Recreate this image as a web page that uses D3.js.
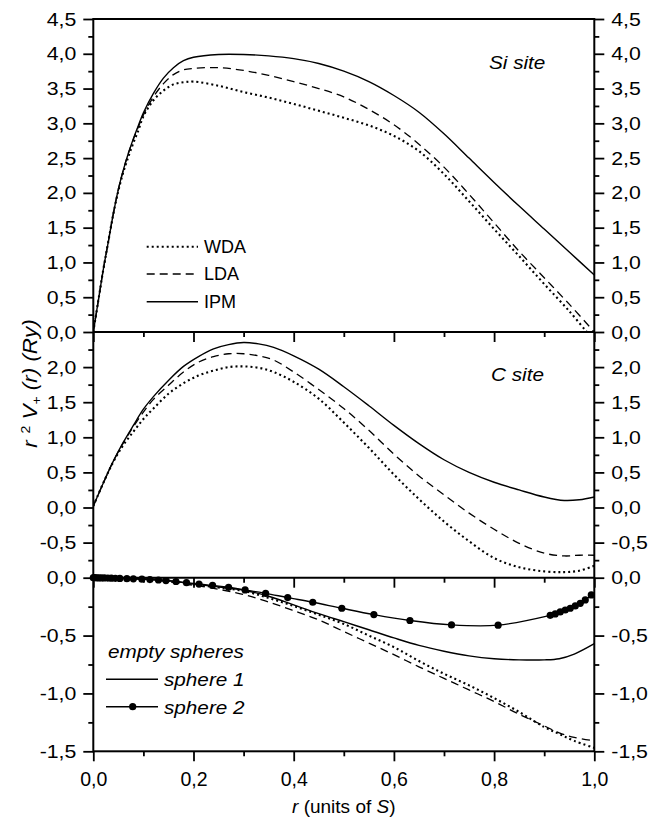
<!DOCTYPE html>
<html>
<head>
<meta charset="utf-8">
<script src="https://cdn.jsdelivr.net/npm/d3@7"></script>
<style>
body { margin: 0; background: #fff; }
svg text { font-family: "Liberation Sans", Arial, Helvetica, sans-serif; fill: #000; }
.wide  { transform-box: fill-box; transform-origin: center;       transform: scaleX(1.12); }
.wideL { transform-box: fill-box; transform-origin: left center;  transform: scaleX(1.12); }
.wideR { transform-box: fill-box; transform-origin: right center; transform: scaleX(1.12); }
</style>
</head>
<body>
<svg id="chart" width="661" height="819"></svg>
<script>
// ---- data ----
// top panel (Si site)
const rTop = [0, 0.01, 0.02, 0.03, 0.04, 0.05, 0.06, 0.07, 0.08, 0.09, 0.10, 0.12, 0.14, 0.16, 0.18, 0.20,
              0.25, 0.30, 0.35, 0.40, 0.45, 0.50, 0.55, 0.60, 0.65, 0.70, 0.75, 0.80, 0.85, 0.90, 0.95, 1.00];
const rTopWda = [0, 0.01, 0.02, 0.03, 0.04, 0.05, 0.06, 0.07, 0.08, 0.09, 0.10, 0.12, 0.14, 0.16, 0.18, 0.20,
              0.25, 0.30, 0.35, 0.40, 0.45, 0.50, 0.55, 0.60, 0.65, 0.70, 0.75, 0.80, 0.85, 0.90, 0.95, 0.985];
const ipmTop = [0, 0.45, 0.9, 1.3, 1.7, 2.05, 2.33, 2.57, 2.78, 2.97, 3.15, 3.43, 3.65, 3.8, 3.9, 3.95,
                3.99, 3.99, 3.97, 3.93, 3.86, 3.75, 3.6, 3.4, 3.16, 2.85, 2.5, 2.15, 1.81, 1.48, 1.15, 0.82];
const ldaTop = [0, 0.45, 0.9, 1.3, 1.7, 2.05, 2.33, 2.57, 2.77, 2.95, 3.12, 3.38, 3.57, 3.7, 3.77, 3.79,
                3.8, 3.76, 3.69, 3.6, 3.5, 3.38, 3.2, 2.98, 2.7, 2.37, 1.98, 1.57, 1.16, 0.78, 0.4, 0.0];
const wdaTop = [0, 0.45, 0.9, 1.3, 1.7, 2.03, 2.3, 2.52, 2.72, 2.9, 3.1, 3.33, 3.47, 3.56, 3.59, 3.6,
                3.54, 3.45, 3.37, 3.28, 3.18, 3.08, 2.97, 2.82, 2.6, 2.27, 1.88, 1.48, 1.09, 0.69, 0.3, 0.0];

// middle panel (C site)
const rMid = [0, 0.02, 0.04, 0.06, 0.08, 0.10, 0.12, 0.15, 0.18, 0.21, 0.24, 0.27, 0.30, 0.33, 0.36,
              0.40, 0.45, 0.50, 0.55, 0.60, 0.65, 0.70, 0.75, 0.80, 0.85, 0.90, 0.94, 0.97, 1.00];
const ipmMid = [0.02, 0.35, 0.66, 0.93, 1.17, 1.4, 1.58, 1.81, 2.01, 2.15, 2.26, 2.32, 2.35, 2.33, 2.28,
                2.16, 1.97, 1.72, 1.45, 1.17, 0.91, 0.68, 0.5, 0.36, 0.25, 0.15, 0.1, 0.11, 0.15];
const ldaMid = [0.02, 0.35, 0.66, 0.92, 1.15, 1.36, 1.54, 1.74, 1.93, 2.07, 2.15, 2.19, 2.19, 2.16, 2.1,
                1.93, 1.68, 1.41, 1.1, 0.76, 0.45, 0.18, -0.08, -0.31, -0.51, -0.65, -0.69, -0.68, -0.68];
const wdaMid = [0.02, 0.35, 0.65, 0.89, 1.08, 1.26, 1.41, 1.62, 1.77, 1.88, 1.95, 2.0, 2.01, 1.99, 1.93,
                1.79, 1.55, 1.21, 0.85, 0.47, 0.12, -0.2, -0.48, -0.72, -0.85, -0.91, -0.92, -0.9, -0.83];

// bottom panel (empty spheres)
const rBot = [0, 0.05, 0.10, 0.15, 0.20, 0.25, 0.30, 0.35, 0.40, 0.45, 0.50, 0.55, 0.60, 0.65, 0.70,
              0.75, 0.80, 0.85, 0.90, 0.93, 0.96, 1.00];
const sphere1 = [0, -0.003, -0.01, -0.025, -0.055, -0.08, -0.108, -0.16, -0.235, -0.31, -0.38, -0.45,
                 -0.52, -0.585, -0.635, -0.675, -0.7, -0.71, -0.71, -0.7, -0.66, -0.57];
const dottedBot = [0, -0.003, -0.01, -0.025, -0.06, -0.085, -0.115, -0.175, -0.245, -0.32, -0.4, -0.5,
                   -0.6, -0.72, -0.83, -0.93, -1.04, -1.16, -1.29, -1.35, -1.41, -1.47];
const dashedBot = [0, -0.003, -0.012, -0.035, -0.065, -0.1, -0.145, -0.21, -0.285, -0.365, -0.465, -0.565,
                   -0.665, -0.77, -0.87, -0.97, -1.07, -1.18, -1.28, -1.34, -1.38, -1.41];
const rSphere2 = [0, 0.003, 0.007, 0.011, 0.016, 0.022, 0.029, 0.036, 0.044, 0.053, 0.067, 0.08, 0.097,
                  0.113, 0.13, 0.145, 0.165, 0.186, 0.211, 0.238, 0.27, 0.303, 0.344, 0.388, 0.438, 0.496,
                  0.56, 0.632, 0.715, 0.808, 0.912, 0.922, 0.932, 0.942, 0.952, 0.962, 0.972, 0.982, 0.994];
const sphere2 = [0, 0, -0.001, -0.001, -0.002, -0.002, -0.003, -0.004, -0.005, -0.006, -0.008, -0.01, -0.013,
                 -0.016, -0.02, -0.025, -0.033, -0.043, -0.055, -0.066, -0.083, -0.106, -0.135, -0.172, -0.212,
                 -0.264, -0.319, -0.37, -0.408, -0.41, -0.325, -0.313, -0.296, -0.279, -0.264, -0.244, -0.221,
                 -0.192, -0.149];

// ticks
const topMajor = [0, 0.5, 1, 1.5, 2, 2.5, 3, 3.5, 4, 4.5];
const topMinor = [0.25, 0.75, 1.25, 1.75, 2.25, 2.75, 3.25, 3.75, 4.25];
const midMajor = [-0.5, 0, 0.5, 1, 1.5, 2];
const midMinor = [-0.75, -0.25, 0.25, 0.75, 1.25, 1.75, 2.25];
const botMajor = [-1.5, -1, -0.5, 0];
const botMinor = [-1.25, -0.75, -0.25];
const xMajor = [0, 0.2, 0.4, 0.6, 0.8, 1];
const xMinor = [0.1, 0.3, 0.5, 0.7, 0.9];

// ---- drawing ----
const svg = d3.select("#chart");
const L = 93.3, R = 594.3;
const x = d3.scaleLinear().domain([0, 1]).range([L, R]);

const yTop = d3.scaleLinear().domain([0, 4.5]).range([332, 19]);
const yMid = d3.scaleLinear().domain([-1, 2.5]).range([577.7, 332]);
const yBot = d3.scaleLinear().domain([-1.5, 0]).range([751.3, 577.7]);

const fmt = v => d3.format(".1f")(v).replace(".", ",").replace("\u2212", "-");

const styles = {
    solid:  { dash: null,  w: 1.4 },
    dashed: { dash: "8,5", w: 1.3 },
    dotted: { dash: "2,3", w: 2.1 }
};

// clip each panel
const defs = svg.append("defs");
[["cTop", yTop], ["cMid", yMid], ["cBot", yBot]].forEach(function (c) {
    const r = c[1].range();
    defs.append("clipPath").attr("id", c[0]).append("rect")
        .attr("x", L).attr("y", Math.min(r[0], r[1]))
        .attr("width", R - L).attr("height", Math.abs(r[0] - r[1]));
});

function drawCurve(rs, vs, y, clip, style) {
    const line = d3.line()
        .x(d => x(d[0]))
        .y(d => y(d[1]))
        .curve(d3.curveCatmullRom.alpha(0.5));
    const s = styles[style];
    svg.append("path")
        .datum(rs.map((r, i) => [r, vs[i]]))
        .attr("clip-path", "url(#" + clip + ")")
        .attr("d", line)
        .attr("fill", "none")
        .attr("stroke", "#000")
        .attr("stroke-width", s.w)
        .attr("stroke-dasharray", s.dash);
}

drawCurve(rTopWda, wdaTop, yTop, "cTop", "dotted");
drawCurve(rTop, ldaTop, yTop, "cTop", "dashed");
drawCurve(rTop, ipmTop, yTop, "cTop", "solid");

drawCurve(rMid, wdaMid, yMid, "cMid", "dotted");
drawCurve(rMid, ldaMid, yMid, "cMid", "dashed");
drawCurve(rMid, ipmMid, yMid, "cMid", "solid");

drawCurve(rBot, dottedBot, yBot, "cBot", "dotted");
drawCurve(rBot, dashedBot, yBot, "cBot", "dashed");
drawCurve(rBot, sphere1, yBot, "cBot", "solid");
drawCurve(rSphere2, sphere2, yBot, "cBot", "solid");

svg.append("g").selectAll("circle")
    .data(rSphere2.map((r, i) => [r, sphere2[i]]))
    .enter().append("circle")
    .attr("cx", d => x(d[0]))
    .attr("cy", d => yBot(d[1]))
    .attr("r", 3.6)
    .attr("fill", "#000");

// axes
function styleAxis(g, cls) {
    g.select(".domain").remove();
    g.selectAll(".tick line").attr("stroke", "#000").attr("stroke-width", 1.8);
    g.attr("font-family", null).attr("font-size", 19);
    if (cls) g.selectAll(".tick text").attr("class", cls);
}

function yAxes(y, major, minor) {
    const gl = svg.append("g").attr("transform", "translate(" + L + ",0)");
    gl.call(d3.axisLeft(y).tickValues(major).tickSize(10).tickPadding(7).tickFormat(fmt));
    styleAxis(gl, "wideR");
    const gl2 = svg.append("g").attr("transform", "translate(" + L + ",0)");
    gl2.call(d3.axisLeft(y).tickValues(minor).tickSize(5).tickFormat(""));
    styleAxis(gl2);

    const gr = svg.append("g").attr("transform", "translate(" + R + ",0)");
    gr.call(d3.axisRight(y).tickValues(major).tickSize(10).tickPadding(7).tickFormat(fmt));
    styleAxis(gr, "wideL");
    const gr2 = svg.append("g").attr("transform", "translate(" + R + ",0)");
    gr2.call(d3.axisRight(y).tickValues(minor).tickSize(5).tickFormat(""));
    styleAxis(gr2);
}
yAxes(yTop, topMajor, topMinor);
yAxes(yMid, midMajor, midMinor);
yAxes(yBot, botMajor, botMinor);

function xAxis(yPos, labels) {
    const g = svg.append("g").attr("transform", "translate(0," + yPos + ")");
    g.call(d3.axisBottom(x).tickValues(xMajor).tickSize(10).tickPadding(11)
        .tickFormat(labels ? fmt : ""));
    styleAxis(g);
    g.attr("font-size", 19.5);
    const g2 = svg.append("g").attr("transform", "translate(0," + yPos + ")");
    g2.call(d3.axisBottom(x).tickValues(xMinor).tickSize(5).tickFormat(""));
    styleAxis(g2);
}
xAxis(yTop.range()[0], false);
xAxis(yMid.range()[0], false);
xAxis(yBot.range()[0], true);

// frame
svg.append("rect")
    .attr("x", L).attr("y", yTop.range()[1])
    .attr("width", R - L).attr("height", yBot.range()[0] - yTop.range()[1])
    .attr("fill", "none").attr("stroke", "#000").attr("stroke-width", 2);
[yTop.range()[0], yMid.range()[0]].forEach(function (yy) {
    svg.append("line").attr("x1", L).attr("x2", R).attr("y1", yy).attr("y2", yy)
        .attr("stroke", "#000").attr("stroke-width", 2);
});

// panel labels
svg.append("text").attr("class", "wideL").attr("x", 489).attr("y", 69)
    .attr("font-size", 18.5).attr("font-style", "italic").text("Si site");
svg.append("text").attr("class", "wideL").attr("x", 491).attr("y", 381.5)
    .attr("font-size", 18.5).attr("font-style", "italic").text("C site");

// legend, top panel
const legendTop = [["WDA", "dotted", 246.7], ["LDA", "dashed", 274], ["IPM", "solid", 301.7]];
legendTop.forEach(function (d) {
    const s = styles[d[1]];
    svg.append("line").attr("x1", 146.7).attr("x2", 198).attr("y1", d[2]).attr("y2", d[2])
        .attr("stroke", "#000").attr("stroke-width", s.w).attr("stroke-dasharray", s.dash);
    svg.append("text").attr("x", 204).attr("y", d[2]).attr("dy", "0.36em")
        .attr("font-size", 18).text(d[0]);
});

// legend, bottom panel
svg.append("text").attr("class", "wideL").attr("x", 108).attr("y", 658)
    .attr("font-size", 18.5).attr("font-style", "italic").text("empty spheres");
[["sphere 1", 679.3, false], ["sphere 2", 706.7, true]].forEach(function (d) {
    svg.append("line").attr("x1", 106).attr("x2", 158).attr("y1", d[1]).attr("y2", d[1])
        .attr("stroke", "#000").attr("stroke-width", 1.4);
    if (d[2]) svg.append("circle").attr("cx", 132.7).attr("cy", d[1]).attr("r", 3.6).attr("fill", "#000");
    svg.append("text").attr("class", "wideL").attr("x", 164).attr("y", d[1] + 7)
        .attr("font-size", 18.5).attr("font-style", "italic").text(d[0]);
});

// axis titles
const xt = svg.append("text").attr("x", (L + R) / 2).attr("y", 812.7)
    .attr("text-anchor", "middle").attr("font-size", 19);
xt.append("tspan").attr("font-style", "italic").text("r");
xt.append("tspan").text(" (units of ");
xt.append("tspan").attr("font-style", "italic").text("S");
xt.append("tspan").text(")");

const yt = svg.append("g").attr("transform", "translate(37,383.5) rotate(-90)")
    .append("text").attr("class", "wide").attr("text-anchor", "middle")
    .attr("font-size", 20).attr("font-style", "italic");
yt.append("tspan").text("r");
yt.append("tspan").attr("font-size", 12.5).attr("font-style", "normal").attr("dy", -7.5).text("\u2009 2");
yt.append("tspan").attr("dy", 7.5).text(" V");
yt.append("tspan").attr("font-size", 12.5).attr("font-style", "normal").attr("dy", 4).text("+");
yt.append("tspan").attr("dy", -4).text(" (r) (Ry)");
</script>
</body>
</html>
